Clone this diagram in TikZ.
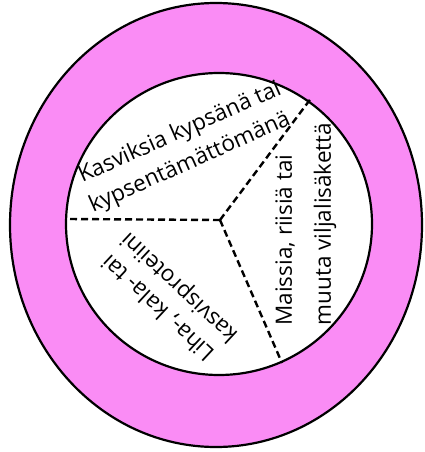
\documentclass[tikz,border=0pt]{standalone}
\usepackage{fontspec}
\setmainfont{Open Sans}
\definecolor{ringpink}{RGB}{250,140,245}
\begin{document}
\begin{tikzpicture}[x=1pt,y=-1pt,
  lbl/.style={inner sep=0pt, font=\fontsize{22.5}{26}\selectfont},
  spoke/.style={line width=2.4pt, dash pattern=on 7pt off 4pt},
  rim/.style={draw=black, line width=2.2pt}]
\useasboundingbox (0,0) rectangle (425,452);
\filldraw[rim, fill=ringpink] (216,225) ellipse [x radius=206, y radius=222];
\filldraw[rim, fill=white] (219,224) ellipse [x radius=153, y radius=151];
\coordinate (c) at (220,220);
\coordinate (eL) at (68,219);
\coordinate (eR) at (312,97);
\coordinate (eB) at (282,363);
\draw[spoke] (c) -- (eL);
\draw[spoke] (c) -- (eR);
\draw[spoke] (c) -- (eB);
\node[lbl, rotate=24] (k1) at (180,133) {Kasviksia kypsänä tai};
\node[lbl, rotate=24] (k2) at (190,163) {kypsentämättömänä};
\node[lbl, rotate=90] (m1) at (285,240) {Maissia, riisiä tai};
\node[lbl, rotate=90] (m2) at (325,224) {muuta viljalisäkettä};
\node[lbl, rotate=137] (l1) at (158,308) {Liha-, kala- tai};
\node[lbl, rotate=137] (l2) at (180,287) {kasvisproteiini};
\end{tikzpicture}
\end{document}
